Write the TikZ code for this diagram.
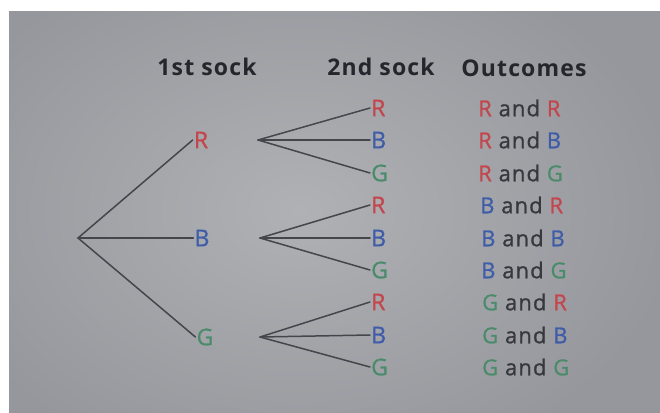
\documentclass[tikz,border=0pt]{standalone}
\usepackage{fontspec}
\setmainfont{Open Sans}
\begin{document}
\begin{tikzpicture}[x=1pt,y=-1pt,
  lbl/.style={inner sep=1pt,font=\fontsize{23}{25}\selectfont\addfontfeatures{FakeBold=1}},
  head/.style={inner sep=0pt,font=\fontsize{23}{26}\selectfont\bfseries\addfontfeatures{LetterSpace=5},text=headc},
  outc/.style={anchor=west,inner sep=0pt,font=\fontsize{22}{24}\selectfont\addfontfeatures{LetterSpace=5,FakeBold=1},text=andc},
  branch/.style={draw=linec,line width=1.5pt,line cap=round}]
\definecolor{redc}{HTML}{C4464D}
\definecolor{bluec}{HTML}{3F5CA8}
\definecolor{greenc}{HTML}{4A8B6B}
\definecolor{andc}{HTML}{37383E}
\definecolor{headc}{HTML}{25262B}
\definecolor{linec}{HTML}{45464B}
\definecolor{bgmid}{HTML}{B0B1B5}
\definecolor{bgout}{HTML}{96979C}
\newcommand{\sockR}{\textcolor{redc}{R}}
\newcommand{\sockB}{\textcolor{bluec}{B}}
\newcommand{\sockG}{\textcolor{greenc}{G}}
% page and photo background
\useasboundingbox (0,0) rectangle (660,412);
\fill[white] (0,0) rectangle (660,412);
\begin{scope}
  \clip (9,12) rectangle (660,412);
  \shade[inner color=bgmid,outer color=bgout] (-80,-60) rectangle (680,480);
\end{scope}

% column headings
\node[head] (h1) at (207,67) {1st sock};
\node[head] (h2) at (381,67) {2nd sock};
\node[head] (h3) at (524,68) {Outcomes};

% root of the tree
\coordinate (root) at (78,238);

% first sock
\node[lbl,text=redc]   (a1) at (201,140) {R};
\node[lbl,text=bluec]  (a2) at (202,238) {B};
\node[lbl,text=greenc] (a3) at (205,337) {G};
\foreach \i in {1,2,3} \draw[branch] (root) -- (a\i.west);

% branch points for the second sock
\coordinate (p1) at (258,140);
\coordinate (p2) at (260,238);
\coordinate (p3) at (260,337);

% second sock and outcomes
\foreach \y/\n/\c/\l/\x/\o in {
  108/1/redc/R/478/{\sockR\ and \sockR},
  140/2/bluec/B/478/{\sockR\ and \sockB},
  173/3/greenc/G/478/{\sockR\ and \sockG},
  205/4/redc/R/480/{\sockB\ and \sockR},
  238/5/bluec/B/481/{\sockB\ and \sockB},
  270/6/greenc/G/481/{\sockB\ and \sockG},
  302/7/redc/R/482/{\sockG\ and \sockR},
  335/8/bluec/B/482/{\sockG\ and \sockB},
  367/9/greenc/G/482/{\sockG\ and \sockG}}{
  \node[lbl,text=\c,anchor=west] (s\n) at (370,\y) {\l};
  \node[outc] (o\n) at (\x,\y) {\o};
}
\foreach \n in {1,2,3} \draw[branch] (p1) -- (s\n.west);
\foreach \n in {4,5,6} \draw[branch] (p2) -- (s\n.west);
\foreach \n in {7,8,9} \draw[branch] (p3) -- (s\n.west);
\end{tikzpicture}
\end{document}
